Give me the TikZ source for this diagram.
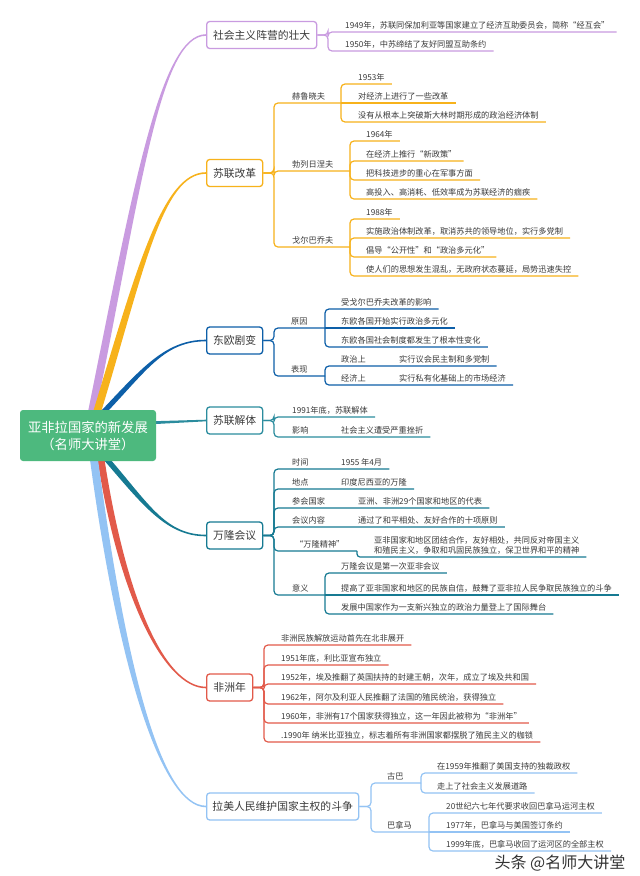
\documentclass[tikz,border=0pt]{standalone}
\usepackage{fontspec}
\setmainfont{Noto Sans CJK SC}
\usetikzlibrary{calc,backgrounds}
\definecolor{cA}{HTML}{C99BE0}
\definecolor{cB}{HTML}{F7B21B}
\definecolor{cC}{HTML}{0D5FA8}
\definecolor{cD}{HTML}{2B8C9E}
\definecolor{cE}{HTML}{167A92}
\definecolor{cF}{HTML}{E25A4A}
\definecolor{cG}{HTML}{93C3F4}
\definecolor{cRoot}{HTML}{4DB97E}
\definecolor{txt}{HTML}{3A3A3A}
\definecolor{wmc}{HTML}{333333}
\newcommand{\mmtaper}[6]{%
\fill[#1] let \p1=(#2), \p2=(#3) in
 ({\x1-#6},\y1) .. controls ({\x1+#4*(\x2-\x1)-#6},{\y1+0.6*(\y2-\y1)}) and ({\x1+0.6*(\x2-\x1)},{\y2+(#5)*0.8pt}) .. ({\x2},{\y2+(#5)*0.8pt})
 -- ({\x2},{\y2-(#5)*0.8pt}) .. controls ({\x1+0.6*(\x2-\x1)},{\y2-(#5)*0.8pt}) and ({\x1+#4*(\x2-\x1)+#6},{\y1+0.6*(\y2-\y1)}) .. ({\x1+#6},\y1) -- cycle;}
\begin{document}
\begin{tikzpicture}[x=1pt,y=-1pt,
  rootbox/.style={fill=cRoot, rounded corners=3pt, minimum width=136pt, minimum height=51pt, inner sep=0pt, text=white, align=center, font=\fontsize{13.3}{17}\selectfont},
  mbox/.style={draw=#1, fill=white, line width=1.3pt, rounded corners=3pt, anchor=west, minimum height=27pt, inner sep=0pt, font=\fontsize{10.8}{12}\selectfont, text=txt},
  leaf/.style={anchor=south west, inner xsep=0pt, inner ysep=2.4pt, font=\fontsize{8.2}{10}\selectfont, text=txt},
  lk/.style={draw=#1, line width=1.2pt, rounded corners=4pt},
]
\useasboundingbox (0,0) rectangle (640,876);

% root and main topics
\node[rootbox] (root) at (88,435.5) {亚非拉国家的新发展\\（名师大讲堂）};
\node[mbox=cA, minimum width=110pt] (m1) at (206,35) {社会主义阵营的壮大};
\node[mbox=cB, minimum width=56pt] (m2) at (206,173) {苏联改革};
\node[mbox=cC, minimum width=56pt] (m3) at (206,340.5) {东欧剧变};
\node[mbox=cD, minimum width=56pt] (m4) at (206,420.5) {苏联解体};
\node[mbox=cE, minimum width=56pt] (m5) at (206,535.5) {万隆会议};
\node[mbox=cF, minimum width=46pt] (m6) at (206,687.5) {非洲年};
\node[mbox=cG, minimum width=152pt] (m7) at (206,806.5) {拉美人民维护国家主权的斗争};

% start points of the main branches
\coordinate (sA) at ($(root.north west)+(72,3)$);
\coordinate (sB) at ($(root.north west)+(77,3)$);
\coordinate (sC) at ($(root.north west)+(83,3)$);
\coordinate (sE) at ($(root.south west)+(86,-3)$);
\coordinate (sF) at ($(root.south west)+(81,-3)$);
\coordinate (sG) at ($(root.south west)+(74,-3)$);

\begin{pgfonlayer}{background}
\fill[white] (0,0) rectangle (640,876);
\mmtaper{cA}{sA}{m1.west}{0.4}{1}{4pt}
\mmtaper{cB}{sB}{m2.west}{0.4}{1}{4pt}
\mmtaper{cC}{sC}{m3.west}{0.4}{1}{3.5pt}
\fill[cD] ($(root.north east)+(-6,11.5)$) -- ($(m4.west)+(0,-0.8)$) -- ($(m4.west)+(0,0.8)$) -- ($(root.north east)+(-6,14.5)$) -- cycle;
\mmtaper{cE}{sE}{m5.west}{0.4}{-1}{3.5pt}
\mmtaper{cF}{sF}{m6.west}{0.2}{-1}{3.5pt}
\mmtaper{cG}{sG}{m7.west}{0.25}{-1}{4pt}
\end{pgfonlayer}

% ---------- group 1
\coordinate (b1) at (328,35);
\node[leaf] (a1) at (345,32) {1949年，苏联同保加利亚等国家建立了经济互助委员会，简称“经互会”};
\node[leaf] (a2) at (345,51) {1950年，中苏缔结了友好同盟互助条约};
\draw[lk=cA] (m1.east) -- (b1) |- ($(a1.south east)+(7,0)$);
\draw[lk=cA] (m1.east) -- (b1) |- ($(a2.south east)+(7,0)$);

% ---------- group 2
\coordinate (b2) at (274,173);
\node[leaf] (k1) at (292,103) {赫鲁晓夫};
\coordinate (j1) at (341,103);
\node[leaf] (k2) at (292,171) {勃列日涅夫};
\coordinate (j2) at (350,171);
\node[leaf] (k3) at (292,247) {戈尔巴乔夫};
\coordinate (j3) at (350,247);
\draw[lk=cB] (m2.east) -- (b2) |- (j1);
\draw[lk=cB] (m2.east) -- (b2) |- (j2);
\draw[lk=cB] (m2.east) -- (b2) |- (j3);
\node[leaf] (k1a) at (358,84) {1953年};
\node[leaf] (k1b) at (358,103) {对经济上进行了一些改革};
\node[leaf] (k1c) at (358,122) {没有从根本上突破斯大林时期形成的政治经济体制};
\draw[lk=cB] (j1) |- ($(k1a.south east)+(7,0)$);
\draw[lk=cB] (j1) -- ($(k1b.south east)+(7,0)$);
\draw[lk=cB] (j1) |- ($(k1c.south east)+(7,0)$);
\node[leaf] (k2a) at (366,141) {1964年};
\node[leaf] (k2b) at (366,161) {在经济上推行“新政策”};
\node[leaf] (k2c) at (366,180) {把科技进步的重心在军事方面};
\node[leaf] (k2d) at (366,199) {高投入、高消耗、低效率成为苏联经济的痼疾};
\draw[lk=cB] (j2) |- ($(k2a.south east)+(7,0)$);
\draw[lk=cB] (j2) |- ($(k2b.south east)+(7,0)$);
\draw[lk=cB] (j2) |- ($(k2c.south east)+(7,0)$);
\draw[lk=cB] (j2) |- ($(k2d.south east)+(7,0)$);
\node[leaf] (k3a) at (366,219) {1988年};
\node[leaf] (k3b) at (366,238) {实施政治体制改革，取消苏共的领导地位，实行多党制};
\node[leaf] (k3c) at (366,257) {倡导“公开性”和“政治多元化”};
\node[leaf] (k3d) at (366,276) {使人们的思想发生混乱，无政府状态蔓延，局势迅速失控};
\draw[lk=cB] (j3) |- ($(k3a.south east)+(7,0)$);
\draw[lk=cB] (j3) |- ($(k3b.south east)+(7,0)$);
\draw[lk=cB] (j3) |- ($(k3c.south east)+(7,0)$);
\draw[lk=cB] (j3) |- ($(k3d.south east)+(7,0)$);

% ---------- group 3
\coordinate (b3) at (274,340.5);
\node[leaf] (r1) at (291,328) {原因};
\coordinate (jr1) at (325,328);
\node[leaf] (r2) at (291,376) {表现};
\coordinate (jr2) at (325,376);
\draw[lk=cC] (m3.east) -- (b3) |- (jr1);
\draw[lk=cC] (m3.east) -- (b3) |- (jr2);
\node[leaf] (r1a) at (341,309) {受戈尔巴乔夫改革的影响};
\node[leaf] (r1b) at (341,328) {东欧各国开始实行政治多元化};
\node[leaf] (r1c) at (341,347) {东欧各国社会制度都发生了根本性变化};
\draw[lk=cC] (jr1) |- ($(r1a.south east)+(7,0)$);
\draw[lk=cC] (jr1) -- ($(r1b.south east)+(7,0)$);
\draw[lk=cC] (jr1) |- ($(r1c.south east)+(7,0)$);
\node[leaf] (r2a) at (341,366) {政治上};
\node[leaf] (r2av) at (399,366) {实行议会民主制和多党制};
\node[leaf] (r2b) at (341,385) {经济上};
\node[leaf] (r2bv) at (399,385) {实行私有化基础上的市场经济};
\draw[lk=cC] (jr2) |- ($(r2av.south east)+(7,0)$);
\draw[lk=cC] (jr2) |- ($(r2bv.south east)+(7,0)$);

% ---------- group 4
\coordinate (b4) at (274,420.5);
\node[leaf] (s1) at (292,417) {1991年底，苏联解体};
\node[leaf] (s2) at (292,437) {影响};
\node[leaf] (s2v) at (341,437) {社会主义遭受严重挫折};
\draw[lk=cD] (m4.east) -- (b4) |- ($(s1.south east)+(7,0)$);
\draw[lk=cD] (m4.east) -- (b4) |- ($(s2v.south east)+(7,0)$);

% ---------- group 5
\coordinate (b5) at (274,535.5);
\node[leaf] (t1) at (292,469) {时间};
\node[leaf] (t1v) at (341,469) {1955 年4月};
\node[leaf] (t2) at (292,489) {地点};
\node[leaf] (t2v) at (341,489) {印度尼西亚的万隆};
\node[leaf] (t3) at (292,508) {参会国家};
\node[leaf] (t3v) at (358,508) {亚洲、非洲29个国家和地区的代表};
\node[leaf] (t4) at (292,527) {会议内容};
\node[leaf] (t4v) at (358,527) {通过了和平相处、友好合作的十项原则};
\node[leaf] (t5) at (295,551) {“万隆精神”};
\coordinate (j5) at (357,551);
\node[leaf, align=left] (t5v) at (374,557) {亚非国家和地区团结合作，友好相处，共同反对帝国主义\\和殖民主义，争取和巩固民族独立，保卫世界和平的精神};
\node[leaf] (t6) at (292,595) {意义};
\coordinate (j6) at (325,595);
\draw[lk=cE] (m5.east) -- (b5) |- ($(t1v.south east)+(7,0)$);
\draw[lk=cE] (m5.east) -- (b5) |- ($(t2v.south east)+(7,0)$);
\draw[lk=cE] (m5.east) -- (b5) |- ($(t3v.south east)+(7,0)$);
\draw[lk=cE] (m5.east) -- (b5) |- ($(t4v.south east)+(7,0)$);
\draw[lk=cE] (m5.east) -- (b5) |- (j5);
\draw[lk=cE, rounded corners=3pt] (j5) |- ($(t5v.south east)+(7,0)$);
\draw[lk=cE] (m5.east) -- (b5) |- (j6);
\node[leaf] (t6a) at (341,573) {万隆会议是第一次亚非会议};
\node[leaf] (t6b) at (341,595) {提高了亚非国家和地区的民族自信，鼓舞了亚非拉人民争取民族独立的斗争};
\node[leaf] (t6c) at (341,614) {发展中国家作为一支新兴独立的政治力量登上了国际舞台};
\draw[lk=cE] (j6) |- ($(t6a.south east)+(7,0)$);
\draw[lk=cE] (j6) -- ($(t6b.south east)+(7,0)$);
\draw[lk=cE] (j6) |- ($(t6c.south east)+(7,0)$);

% ---------- group 6
\coordinate (b6) at (264,687.5);
\node[leaf] (f1) at (281,645) {非洲民族解放运动首先在北非展开};
\node[leaf] (f2) at (281,665) {1951年底，利比亚宣布独立};
\node[leaf] (f3) at (281,684) {1952年，埃及推翻了英国扶持的封建王朝，次年，成立了埃及共和国};
\node[leaf] (f4) at (281,704) {1962年，阿尔及利亚人民推翻了法国的殖民统治，获得独立};
\node[leaf] (f5) at (281,723) {1960年，非洲有17个国家获得独立，这一年因此被称为“非洲年”};
\node[leaf] (f6) at (281,742) {.1990年 纳米比亚独立，标志着所有非洲国家都摆脱了殖民主义的枷锁};
\foreach \f in {f1,f2,f3,f4,f5,f6}{
  \draw[lk=cF] (m6.east) -- (b6) |- ($(\f.south east)+(7,0)$);
}

% ---------- group 7
\coordinate (b7) at (371,806.5);
\node[leaf] (g1) at (387,783) {古巴};
\coordinate (jg1) at (421,783);
\node[leaf] (g2) at (387,832) {巴拿马};
\coordinate (jg2) at (429,832);
\draw[lk=cG] (m7.east) -- (b7) |- (jg1);
\draw[lk=cG] (m7.east) -- (b7) |- (jg2);
\node[leaf] (g1a) at (437,773) {在1959年推翻了美国支持的独裁政权};
\node[leaf] (g1b) at (437,793) {走上了社会主义发展道路};
\draw[lk=cG] (jg1) |- ($(g1a.south east)+(7,0)$);
\draw[lk=cG] (jg1) |- ($(g1b.south east)+(7,0)$);
\node[leaf] (g2a) at (446,813) {20世纪六七年代要求收回巴拿马运河主权};
\node[leaf] (g2b) at (446,832) {1977年，巴拿马与美国签订条约};
\node[leaf] (g2c) at (446,851) {1999年底，巴拿马收回了运河区的全部主权};
\draw[lk=cG] (jg2) |- ($(g2a.south east)+(7,0)$);
\draw[lk=cG] (jg2) -- ($(g2b.south east)+(7,0)$);
\draw[lk=cG] (jg2) |- ($(g2c.south east)+(7,0)$);

% watermark
\node[font=\fontsize{16}{16}\selectfont, text=wmc, inner sep=0pt] (wm) at (560,863) {头条 @名师大讲堂};
\end{tikzpicture}
\end{document}
